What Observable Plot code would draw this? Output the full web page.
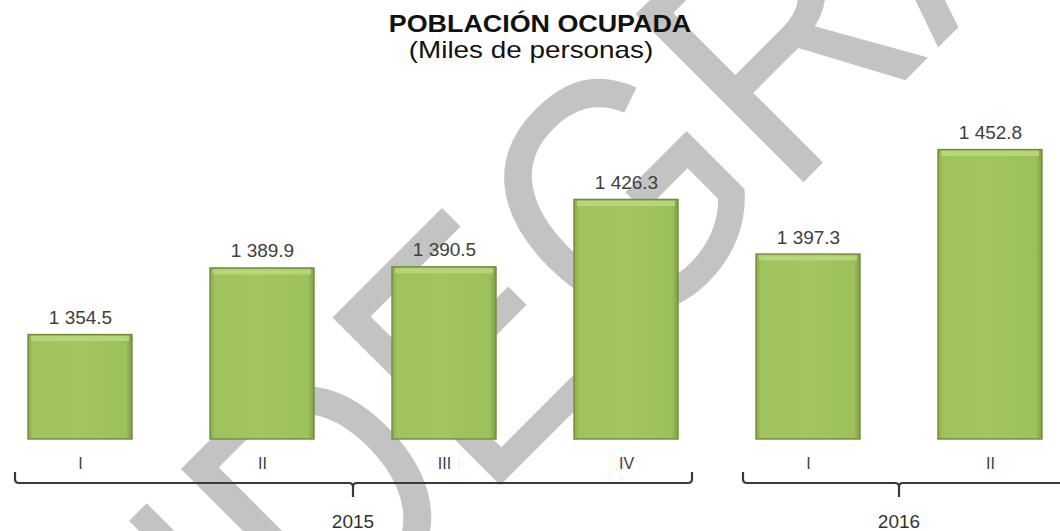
<!DOCTYPE html>
<html>
<head>
<meta charset="utf-8">
<script src="https://cdn.jsdelivr.net/npm/d3@7"></script>
<script src="https://cdn.jsdelivr.net/npm/@observablehq/plot@0.6"></script>
<style>
  html, body { margin: 0; padding: 0; background: #ffffff; }
  #chart { width: 1060px; height: 531px; overflow: hidden; }
</style>
</head>
<body>
<div id="chart"></div>
<script>
// ---- data ----
const title = "POBLACIÓN OCUPADA";
const subtitle = "(Miles de personas)";
const watermark = ["IN", "DEGRAF"];
const quarters = ["I", "II", "III", "IV", "I", "II"];
const years = ["2015", "2015", "2015", "2015", "2016", "2016"];
const values = [1354.5, 1389.9, 1390.5, 1426.3, 1397.3, 1452.8];
const yearLabels = ["2015", "2016"];

const data = quarters.map((q, i) => ({key: q + "·" + years[i], quarter: q, year: years[i], value: values[i]}));
const fmt = d3.formatLocale({decimal: ".", thousands: " ", grouping: [3], currency: ["", ""]}).format(",.1f");
const yBase = 1299;
const yTop = 1460;
const FONT = "'Liberation Sans', Arial, Helvetica, sans-serif";

// gradient definitions for the bevelled bars
const defsMark = () => {
  const g = d3.create("svg:g");
  const defs = g.append("defs");
  const lg = defs.append("linearGradient").attr("id", "barGrad")
    .attr("x1", 0).attr("x2", 1).attr("y1", 0).attr("y2", 0);
  [[0, "#8aab4a"], [0.05, "#a0c35e"], [0.5, "#a2c560"], [0.94, "#9cc05a"], [1, "#809f44"]]
    .forEach(([o, c]) => lg.append("stop").attr("offset", o).attr("stop-color", c));
  return g.node();
};

// diagonal watermark behind everything
const watermarkMark = () => {
  const g = d3.create("svg:g")
    .attr("fill", "#c3c3c3")
    .attr("font-family", FONT)
    .attr("font-size", 345);
  const t = g.append("g").attr("transform", "translate(331.6,654) rotate(-45) scale(0.86,1)");
  t.append("text").attr("text-anchor", "end").text(watermark[0]);
  t.append("text").attr("text-anchor", "start").text(watermark[1]);
  return g.node();
};

// title and subtitle (slightly widened lettering, as in the source)
const titleMark = () => {
  const g = d3.create("svg:g").attr("font-family", FONT).attr("fill", "#111111").attr("text-anchor", "middle");
  g.append("text").attr("transform", "translate(540,32) scale(1.12,1)")
    .attr("font-size", 24).attr("font-weight", "bold").text(title);
  g.append("text").attr("transform", "translate(531,58) scale(1.16,1)")
    .attr("font-size", 24).text(subtitle);
  return g.node();
};

// year brackets under the quarter labels
const bracketMark = (index, scales, values, dims) => {
  const x = scales.x;
  const bw = x.bandwidth ? x.bandwidth() : 0;
  const base = dims.height - dims.marginBottom;
  const yL = base + 44, yT = yL - 11, yB = yL + 14, r = 4;
  const g = d3.create("svg:g");
  yearLabels.forEach((yr, gi) => {
    const keys = data.filter(d => d.year === yr).map(d => d.key);
    const a = x(keys[0]), b = x(keys[keys.length - 1]) + bw;
    const x0 = a - 13;
    const x1 = gi === yearLabels.length - 1 ? dims.width + 12 : b + 14;
    const cx = (a + b) / 2;
    g.append("path")
      .attr("d", `M${x0},${yT} V${yL - r} Q${x0},${yL} ${x0 + r},${yL} H${cx - r} Q${cx},${yL} ${cx},${yL + r} V${yB} M${cx},${yL + r} Q${cx},${yL} ${cx + r},${yL} H${x1 - r} Q${x1},${yL} ${x1},${yL - r} V${yT}`)
      .attr("fill", "none").attr("stroke", "#3a3a3a").attr("stroke-width", 2.2);
    g.append("text")
      .attr("x", cx).attr("y", yL + 45)
      .attr("text-anchor", "middle")
      .attr("font-family", FONT).attr("font-size", 19).attr("fill", "#333333")
      .text(yr);
  });
  return g.node();
};

const chart = Plot.plot({
  width: 1060,
  height: 531,
  marginTop: 136,
  marginBottom: 92,
  marginLeft: 26,
  marginRight: 17,
  style: {fontFamily: FONT, background: "#ffffff"},
  x: {domain: data.map(d => d.key), paddingInner: 0.43, paddingOuter: 0, axis: null},
  y: {domain: [yBase, yTop], axis: null},
  marks: [
    defsMark,
    watermarkMark,
    Plot.barY(data, {x: "key", y1: yBase, y2: "value", fill: "url(#barGrad)", stroke: "#6f8e3c", strokeWidth: 1.4}),
    Plot.tickY(data, {x: "key", y: "value", stroke: "#bcd985", strokeWidth: 5, strokeOpacity: 0.8, dy: 3.5, insetLeft: 3, insetRight: 3}),
    Plot.text(data, {x: "key", y: "value", text: d => fmt(d.value), dy: -11, lineAnchor: "bottom", fontSize: 19, fill: "#404040"}),
    Plot.text(data, {x: "key", frameAnchor: "bottom", text: "quarter", dy: 29, lineAnchor: "bottom", fontSize: 16, fill: "#404040"}),
    bracketMark,
    titleMark
  ]
});
document.getElementById("chart").appendChild(chart);
</script>
</body>
</html>
